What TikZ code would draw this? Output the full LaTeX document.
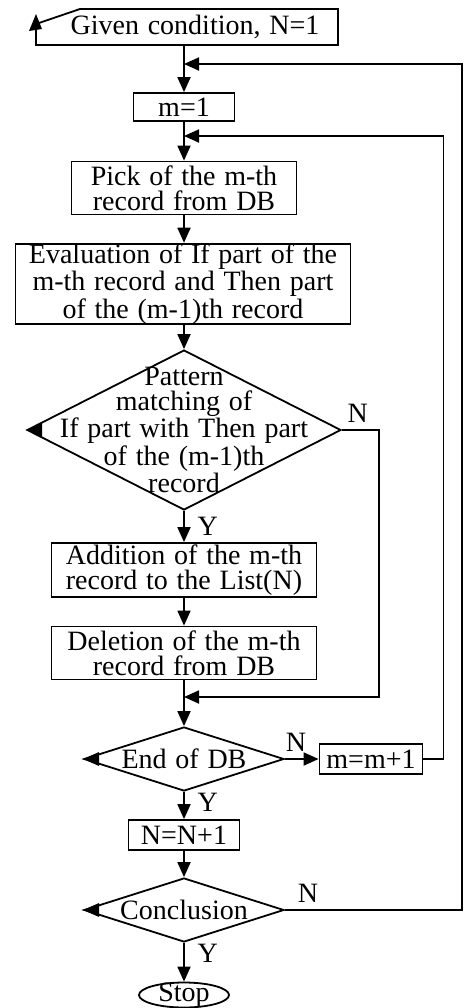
\documentclass[tikz,border=0pt]{standalone}
\usepackage{fontspec}
\setmainfont[WordSpace=1.25]{Liberation Serif}
\usetikzlibrary{arrows.meta,shapes.geometric}

\begin{document}
\begin{tikzpicture}
[x=.5pt,y=-.5pt,
 every node/.style={font=\fontsize{14}{12.5}\selectfont},
 box/.style={draw,line width=.9pt,inner sep=0pt,align=center},
 dec/.style={draw,diamond,line width=.9pt,inner sep=0pt},
 txt/.style={inner sep=0pt,align=center},
 arr/.style={line width=.9pt,-{Triangle[length=7.5pt,width=6.5pt]}},
 line/.style={line width=.9pt}]
\useasboundingbox (0,0) rectangle (464,1008);
% main column
\node[txt,minimum height=18pt] (given) at (195,27) {Given condition, N=1};
\node[box,minimum width=50.5pt,minimum height=14pt] (m1) at (184,107) {m=1};
\node[box,minimum width=112.5pt,minimum height=26.5pt] (pick) at (184,188)
  {Pick of the m-th\\record from DB};
\node[box,minimum width=167.5pt,minimum height=39pt] (eval) at (183,284)
  {Evaluation of If part of the\\m-th record and Then part\\of the (m-1)th record};
\node[dec,minimum width=157pt,minimum height=80pt] (match) at (184,430) {};
\node[txt] (matchtxt) at (184,430)
  {Pattern\\matching of\\If part with Then part\\of the (m-1)th\\record};
\node[box,minimum width=132.5pt,minimum height=27pt] (add) at (184,570)
  {Addition of the m-th\\record to the List(N)};
\node[box,minimum width=132.5pt,minimum height=26.5pt] (del) at (184,653)
  {Deletion of the m-th\\record from DB};
\node[dec,minimum width=100pt,minimum height=32pt] (end) at (184,759) {};
\node[txt] (endtxt) at (end) {End of DB};
\node[box,minimum width=51.5pt,minimum height=15pt] (mm) at (371,759) {m=m+1};
\node[box,minimum width=55.5pt,minimum height=15pt] (nn) at (184,835) {N=N+1};
\node[dec,minimum width=100pt,minimum height=32pt] (concl) at (184,910) {};
\node[txt] (concltxt) at (concl) {Conclusion};
\node[draw,ellipse,line width=.9pt,inner xsep=0pt,inner ysep=-3pt,
  text height=9.3pt,text depth=3pt,
  minimum width=45pt,minimum height=12.5pt] (stop) at (184,995) {Stop};
% points where the loops come back
\coordinate (back1) at (184,64);
\coordinate (back2) at (184,136);
\coordinate (merge) at (184,697);
% start box outline
\draw[line] (36,45) -- (36,24) -- (80,9) -- (338,9) -- (338,45) -- cycle;
\fill (36,14) -- (42,29) -- (29,31) -- cycle;
\foreach \d in {match,end,concl}
  \fill (\d.west) -- ++(16,-7) -- ++(0,14) -- cycle;
% connectors
\draw[arr] (given.south -| m1.north) -- (m1.north);
\draw[arr] (m1) -- (pick);
\draw[arr] (pick) -- (pick |- eval.north);
\draw[arr] (eval.south -| match) -- (match);
\draw[arr] (match) -- node[right,xshift=3pt] (yes1) {Y} (add);
\draw[arr] (add) -- (del);
\draw[arr] (del) -- (end);
\draw[arr] (end) -- node[right,xshift=3pt,pos=.4] (yes2) {Y} (nn);
\draw[arr] (nn) -- (concl);
\draw[arr] (concl) -- node[right,xshift=3pt,pos=.27] (yes3) {Y} (stop);
\draw[arr] (end) -- node[above,pos=.33] (no2) {N} (mm);
\draw[arr] (match.east) -- node[above,pos=.43] (no1) {N} ++(37,0) |- (merge);
\draw[arr] (mm.east) -- ++(20,0) |- (back2);
\draw[arr] (concl.east) -- node[above,pos=.13] (no3) {N} ++(177,0) |- (back1);
\end{tikzpicture}
\end{document}
